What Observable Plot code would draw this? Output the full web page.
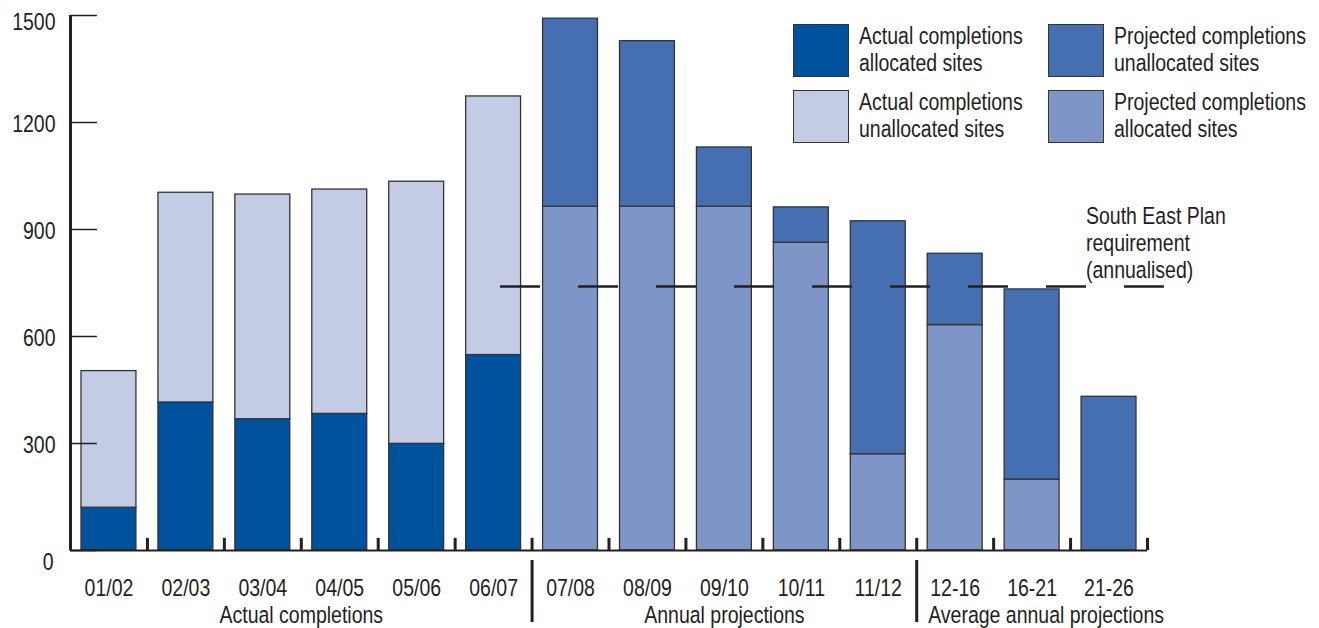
<!DOCTYPE html>
<html>
<head>
<meta charset="utf-8">
<script src="https://cdn.jsdelivr.net/npm/d3@7"></script>
<script src="https://cdn.jsdelivr.net/npm/@observablehq/plot@0.6"></script>
<style>
  html, body { margin: 0; padding: 0; background: #fff; }
  body { font-family: "Liberation Sans", Arial, sans-serif; }
  #wrap { position: relative; width: 1319px; height: 628px; }
  #legend { position: absolute; left: 0; top: 0; width: 1319px; height: 628px; pointer-events: none; }
  .item { position: absolute; display: flex; align-items: center; }
  .sw { width: 56px; height: 53px; border: 1.2px solid #333; box-sizing: border-box; flex: none; }
  .lt { margin-left: 10px; font-size: 23.5px; line-height: 27px; color: #231f20; white-space: nowrap;
        transform: scaleX(0.83); transform-origin: left center; }
</style>
</head>
<body>
<div id="wrap"><div id="chart"></div><div id="legend"></div></div>
<script>
// ---- data ----
const categories = ["01/02","02/03","03/04","04/05","05/06","06/07","07/08","08/09","09/10","10/11","11/12","12-16","16-21","21-26"];
const actualAllocated    = [120, 415, 368, 383, 299, 548, 0, 0, 0, 0, 0, 0, 0, 0];
const actualUnallocated  = [383, 588, 630, 629, 735, 725, 0, 0, 0, 0, 0, 0, 0, 0];
const projectedAllocated   = [0, 0, 0, 0, 0, 0, 964, 964, 964, 863, 270, 632, 199, 0];
const projectedUnallocated = [0, 0, 0, 0, 0, 0, 527, 464, 166, 99, 653, 200, 533, 431];
const requirement = 740;
const yTicks = [0, 300, 600, 900, 1200, 1500];
const groups = [
  {label: "Actual completions", start: 0, end: 6},
  {label: "Annual projections", start: 6, end: 11},
  {label: "Average annual projections", start: 11, end: 14}
];
const seriesNames = ["Actual completions allocated sites", "Actual completions unallocated sites",
                     "Projected completions allocated sites", "Projected completions unallocated sites"];
const seriesColors = ["#01529c", "#c4cce5", "#7d96c7", "#456fb0"];
const requirementLabel = "South East Plan\nrequirement\n(annualised)";

// ---- build stacked rows ----
const seriesValues = [actualAllocated, actualUnallocated, projectedAllocated, projectedUnallocated];
const rows = [];
categories.forEach((c, i) => {
  let base = 0;
  seriesValues.forEach((vals, s) => {
    const v = vals[i];
    if (v > 0) {
      rows.push({i, cat: c, series: seriesNames[s], y1: base, y2: base + v});
      base += v;
    }
  });
});

const font = `"Liberation Sans", Arial, sans-serif`;
const fs = 23.5;
const ink = "#231f20";
const bw = 0.357; // half bar width in band units

const chart = Plot.plot({
  width: 1319,
  height: 628,
  marginLeft: 70,
  marginRight: 172,
  marginTop: 15,
  marginBottom: 78,
  style: {fontFamily: font, fontSize: fs + "px", color: ink, background: "white", overflow: "visible"},
  x: {domain: [0, categories.length], axis: null},
  y: {domain: [0, 1500], axis: null},
  color: {domain: seriesNames, range: seriesColors},
  marks: [
    Plot.rectY(rows, {x1: d => d.i + 0.5 - bw, x2: d => d.i + 0.5 + bw, y1: "y1", y2: "y2",
                      fill: "series", stroke: "#333", strokeWidth: 1.3}),
    // y axis line and inward ticks
    Plot.ruleX([0], {y1: 0, y2: 1500, stroke: ink, strokeWidth: 3}),
    Plot.ruleY(yTicks, {x1: 0, x2: 0.35, stroke: ink, strokeWidth: 1.5}),
    Plot.text(yTicks.filter(d => d === 1500), {x: 0, y: d => d, text: d => String(d), textAnchor: "end", dx: -15, dy: 7, fontSize: fs, fill: ink}),
    Plot.text(yTicks.filter(d => d > 0 && d < 1500), {x: 0, y: d => d, text: d => String(d), textAnchor: "end", dx: -15, dy: 2, fontSize: fs, fill: ink}),
    Plot.text(yTicks.filter(d => d === 0), {x: 0, y: d => d, text: d => String(d), textAnchor: "end", dx: -17, dy: 12, fontSize: fs, fill: ink}),
    // baseline and boundary ticks
    Plot.ruleY([0], {x1: 0, x2: categories.length, stroke: ink, strokeWidth: 2}),
    Plot.ruleX(d3.range(1, categories.length + 1), {y1: 0, y2: 34, stroke: ink, strokeWidth: 3}),
    // category labels
    Plot.text(categories, {x: (d, i) => i + 0.5, y: 0, dy: 38, fontSize: fs, fill: ink}),
    // group separators and labels
    Plot.ruleX(groups.slice(1), {x: "start", y1: -28, y2: -202, stroke: ink, strokeWidth: 3}),
    Plot.text(groups.slice(0, 2), {x: d => (d.start + d.end) / 2, y: 0, text: "label", dy: 65, fontSize: fs, fill: ink}),
    Plot.text(groups.slice(2), {x: d => (d.start + d.end) / 2, y: 0, text: "label", dy: 65, dx: 14, fontSize: fs, fill: ink}),
    // requirement line
    Plot.ruleY([requirement], {x1: 5.59, x2: 14.22, stroke: ink, strokeWidth: 2.5, strokeDasharray: "40,38"}),
    Plot.text([requirementLabel], {x: 13.2, y: requirement, text: d => d, textAnchor: "start", lineAnchor: "middle",
                                   dy: -44, lineHeight: 1.15, fontSize: fs, fill: ink})
  ]
});

// condense all texts horizontally (narrow typeface look)
chart.querySelectorAll("text").forEach(t => {
  let tr = t.getAttribute("transform");
  if (!tr) {
    const x = t.getAttribute("x") || 0, y = t.getAttribute("y") || 0;
    t.removeAttribute("x"); t.removeAttribute("y");
    tr = `translate(${x},${y})`;
  }
  t.setAttribute("transform", tr + " scale(0.83,1)");
});
document.getElementById("chart").appendChild(chart);

// ---- legend (HTML overlay) ----
const legendItems = [
  {s: 0, text: "Actual completions<br>allocated sites", left: 793, top: 23},
  {s: 1, text: "Actual completions<br>unallocated sites", left: 793, top: 89},
  {s: 3, text: "Projected completions<br>unallocated sites", left: 1048, top: 23},
  {s: 2, text: "Projected completions<br>allocated sites", left: 1048, top: 89}
];
const lg = document.getElementById("legend");
legendItems.forEach(it => {
  const d = document.createElement("div");
  d.className = "item";
  d.style.left = it.left + "px";
  d.style.top = it.top + "px";
  d.innerHTML = `<div class="sw" style="background:${seriesColors[it.s]}"></div><div class="lt">${it.text}</div>`;
  lg.appendChild(d);
});
</script>
</body>
</html>
